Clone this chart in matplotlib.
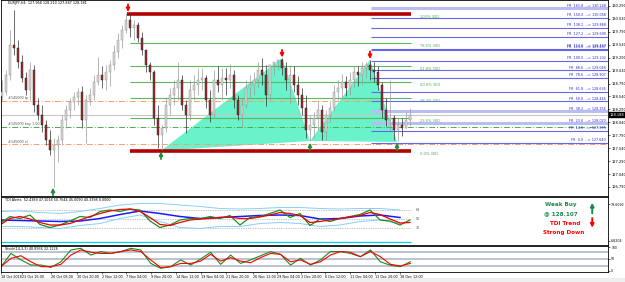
import numpy as np
import matplotlib
matplotlib.use('Agg')
import matplotlib.pyplot as plt
from matplotlib.patches import Rectangle

plt.rcParams['font.family'] = ['DejaVu Sans']
SMALL = 2.6
TINY = 2.4

# ---- price candles (EURJPY H4, one candle here ~ 2.5 real bars)
c_high = [128.86, 129.05, 129.83, 130.21, 129.63, 129.34, 129.01, 129.21, 129.15, 128.51,
          128.38, 128.09, 127.89, 127.74, 127.80, 128.18, 128.38, 128.51, 128.63, 128.70,
          128.74, 128.57, 128.70, 128.96, 129.30, 129.13, 129.15, 129.25, 129.54, 129.77,
          129.92, 130.16, 130.14, 130.02, 129.98, 129.79, 129.44, 129.21, 129.05, 128.38,
          127.99, 128.51, 128.70, 128.86, 129.21, 128.96, 128.47, 128.86, 128.96, 129.09,
          129.09, 128.96, 128.67, 129.05, 129.13, 129.09, 129.09, 129.17, 129.05, 128.57,
          128.51, 128.86, 128.96, 129.01, 129.21, 129.28, 129.15, 129.17, 129.21, 129.23,
          129.28, 129.21, 129.15, 129.13, 128.94, 128.70, 128.57, 128.18, 128.24, 128.47,
          128.38, 128.28, 128.43, 128.76, 128.86, 128.98, 128.94, 129.01, 129.13, 129.13,
          129.21, 129.21, 129.25, 129.21, 129.13, 128.82, 128.51, 128.86, 128.18, 128.12,
          128.12, 128.24, 128.32]
c_low = [128.47, 128.57, 128.86, 129.34, 129.09, 128.82, 128.57, 128.47, 128.24, 128.09,
         127.85, 127.60, 127.41, 126.79, 127.27, 127.60, 127.93, 128.12, 128.28, 128.38,
         127.93, 127.64, 128.38, 128.47, 128.76, 128.70, 128.67, 128.74, 129.05, 129.28,
         129.48, 129.77, 129.69, 129.63, 129.59, 129.34, 129.01, 128.86, 127.99, 127.54,
         127.51, 127.85, 128.18, 128.38, 128.47, 128.28, 127.83, 128.09, 128.47, 128.57,
         128.67, 128.32, 128.05, 128.12, 128.63, 128.47, 128.57, 128.70, 128.32, 128.09,
         127.93, 128.32, 128.51, 128.57, 128.70, 128.76, 128.36, 128.47, 128.96, 129.05,
         128.96, 128.67, 128.41, 128.63, 128.38, 128.18, 127.74, 127.68, 127.74, 127.89,
         127.70, 127.70, 128.05, 128.28, 128.47, 128.51, 128.55, 128.57, 128.70, 128.74,
         128.76, 128.90, 128.86, 128.82, 128.67, 128.12, 127.97, 127.89, 127.70, 127.68,
         127.78, 127.93, 127.97]
c_close = [128.63, 128.96, 129.54, 129.48, 129.21, 128.90, 128.67, 129.05, 128.38, 128.18,
           127.99, 127.70, 127.51, 127.60, 127.70, 128.09, 128.28, 128.43, 128.53, 128.63,
           128.09, 128.47, 128.57, 128.82, 128.96, 128.86, 129.01, 129.15, 129.40, 129.63,
           129.83, 130.02, 129.86, 129.92, 129.67, 129.44, 129.15, 129.01, 128.12, 127.80,
           127.93, 128.38, 128.57, 128.70, 128.86, 128.38, 128.18, 128.67, 128.76, 128.86,
           128.90, 128.47, 128.18, 128.86, 128.76, 128.90, 128.86, 128.96, 128.47, 128.18,
           128.38, 128.70, 128.76, 128.86, 129.05, 128.96, 128.57, 129.15, 129.21, 129.25,
           129.09, 128.86, 128.96, 128.76, 128.57, 128.32, 127.89, 127.99, 128.12, 128.28,
           127.85, 128.18, 128.32, 128.63, 128.70, 128.82, 128.70, 128.86, 129.01, 128.96,
           129.09, 129.15, 129.05, 129.01, 128.76, 128.28, 128.09, 128.12, 127.89, 127.99,
           127.93, 128.09, 128.19]
first_open = 128.55
current_price = 128.188

# ---- 30D fibo levels
fib30_labels = ["100% 30D", "78.6% 30D", "61.8% 30D", "50.0% 30D", "38.2% 30D", "23.6% 30D", "0.0% 30D"]
fib30_prices = [130.135, 129.574, 129.130, 128.820, 128.511, 128.124, 127.486]

# ---- fibo retracement/expansion on the right
fr_ratios = ["161.8", "150.0", "138.2", "127.2", "114.6", "113.0", "100.0", "88.6",
             "78.6", "61.8", "50.0", "38.2", "23.6", "14.6", "0.0"]
fr_prices = [130.248, 130.058, 129.868, 129.690, 129.467, 129.437, 129.232, 129.048,
             128.907, 128.636, 128.446, 128.256, 128.020, 127.875, 127.640]

# ---- order lines
order_labels = ["#145000 tp", "#145000 buy 1.00", "#145000 sl"]
order_prices = [128.453, 127.950, 127.620]

# ---- harmonic pattern X A B C D
pat_idx = [39.75, 70, 77, 92, 98.75]
pat_price = [127.49, 129.28, 127.68, 129.25, 127.66]
peak_idx = [31.5, 70, 92]
peak_price = [130.16, 129.28, 129.25]
trough_idx = [12.75, 39.75, 77, 98.75]
trough_price = [126.79, 127.49, 127.66, 127.66]

price_ticks = [126.790, 127.040, 127.290, 127.540, 127.790, 128.040, 128.290, 128.540,
               128.790, 129.040, 129.290, 129.540, 129.790, 130.040, 130.290]

# ---- TDI
tdi_green = [41, 55, 51, 58, 39, 33, 38, 46, 55, 53, 65, 68, 65, 70, 68, 46, 33, 38, 48, 51, 50,
             55, 51, 57, 38, 53, 55, 61, 68, 53, 61, 37, 50, 45, 51, 55, 59, 68, 48, 46, 38, 48]
tdi_red = [38, 51, 55, 50, 43, 38, 38, 41, 48, 55, 61, 66, 69, 70, 65, 53, 39, 37, 43, 48, 50,
           51, 53, 54, 51, 51, 54, 58, 63, 61, 57, 43, 45, 48, 51, 54, 57, 63, 59, 50, 42, 43]
tdi_base = [48, 47, 46, 45, 46, 51, 59, 66, 61, 55, 51, 53, 55, 57, 58, 57, 50, 51, 56, 58, 53]
tdi_upper = [65, 66, 63, 61, 65, 71, 78, 81, 81, 78, 75, 71, 70, 71, 73, 73, 71, 70, 71, 71, 68]
tdi_lower = [35, 35, 33, 31, 37, 41, 51, 58, 45, 33, 31, 35, 35, 41, 43, 41, 35, 38, 45, 48, 41]
tdi_levels = [68, 50, 32]

# ---- Stochastic
st_main = [17, 74, 46, 24, 24, 14, 38, 89, 96, 67, 82, 74, 82, 96, 89, 31, 10, 17, 46, 24, 50,
           79, 27, 67, 31, 46, 64, 82, 70, 24, 53, 24, 46, 82, 82, 74, 60, 89, 38, 23, 17, 38]
st_sig = [17, 53, 64, 38, 17, 17, 27, 67, 89, 79, 74, 74, 82, 89, 82, 46, 13, 17, 31, 31, 41,
          70, 41, 56, 41, 34, 56, 74, 70, 38, 46, 27, 38, 67, 82, 79, 60, 82, 60, 27, 20, 31]
st_levels = [80, 50, 20]

time_idx = [-0.5, 4.75, 12, 18.5, 24.75, 30.75, 37, 43.25, 49.5, 55.75, 62.5, 68.5, 74.5,
            80.75, 87, 93.25, 99.5]
time_labels = ["18 Oct 2018", "23 Oct 16:00", "26 Oct 08:00", "30 Oct 20:00", "2 Nov 12:00",
               "7 Nov 04:00", "9 Nov 20:00", "14 Nov 12:00", "19 Nov 04:00", "21 Nov 20:00",
               "26 Nov 12:00", "29 Nov 04:00", "3 Dec 20:00", "6 Dec 12:00", "11 Dec 04:00",
               "13 Dec 20:00", "18 Dec 12:00"]

XMIN, XMAX = -0.25, 151.5
ind_x = np.arange(len(tdi_green)) * 2.5 - 0.5
band_x = np.arange(len(tdi_base)) * 5 - 0.5

fig = plt.figure(figsize=(6.25, 2.82), dpi=100)
fig.patches.append(Rectangle((0, 0), 1, 4 / 282, transform=fig.transFigure,
                             facecolor='#efefef', edgecolor='none'))
ax = fig.add_axes([1 / 625, 86 / 282, 607 / 625, 196 / 282])
ax2 = fig.add_axes([1 / 625, 37 / 282, 607 / 625, 48 / 282])
ax3 = fig.add_axes([1 / 625, 10 / 282, 607 / 625, 26 / 282])

for a in (ax, ax2, ax3):
    a.set_xlim(XMIN, XMAX)
    for s in a.spines.values():
        s.set_linewidth(0.6)
        s.set_color('black')
    a.yaxis.tick_right()
    a.tick_params(axis='y', labelsize=SMALL, length=1.5, width=0.4, pad=0.8)

# ---------------- main price panel
ax.set_ylim(126.615, 130.406)
ax.set_xticks([])
ax.set_yticks(price_ticks)
ax.set_yticklabels(['%.3f' % t for t in price_ticks])

# harmonic pattern triangles
ax.fill(pat_idx[0:3], pat_price[0:3], color='#6af2ca', lw=0, zorder=1)
ax.fill(pat_idx[2:5], pat_price[2:5], color='#6af2ca', lw=0, zorder=1)

# order lines
ax.axhline(current_price, color='#c8c8c8', lw=0.8, zorder=1.5)
order_colors = ['#ff9a70', '#4caf50', '#ff9a70']
for lab, p, col in zip(order_labels, order_prices, order_colors):
    ax.axhline(p, color=col, lw=0.7, ls=(0, (6, 2, 1, 2)), zorder=1.5)
    ax.text(1.5, p + 0.01, lab, fontsize=TINY, color='#555555', va='bottom', ha='left')

# 30D fibo
ax.hlines(fib30_prices[1:-1], 32, 102.25, color='#5cb85c', lw=0.8, zorder=1.6)
ax.hlines([fib30_prices[0]], 31.25, 102.25, color='#b30000', lw=2.6, zorder=3)
ax.hlines([fib30_prices[-1]], 32, 102.25, color='#b30000', lw=2.6, zorder=3)
for lab, p in zip(fib30_labels, fib30_prices):
    ax.text(104.5, p - 0.012, lab, fontsize=SMALL, color='#4cae4c', va='top', ha='left')

# right fibo lines
light = {"161.8", "38.2", "23.6"}
for r, p in zip(fr_ratios, fr_prices):
    if r in light:
        ax.hlines(p, 92.25, XMAX, color='#bcbcf4', lw=2.2, zorder=1.7)
    else:
        ax.hlines(p, 92.25, XMAX, color='#6565ee', lw=0.8, zorder=1.7)
    ax.text(151.0, p + 0.012, 'FR  %s  --> %.3f' % (r, p), fontsize=TINY, color='#2a2acc',
            va='bottom', ha='right')

# candles
c_open = [first_open] + c_close[:-1]
idx = np.arange(len(c_close))
o = np.array(c_open)
c = np.array(c_close)
bull = c >= o
wick_col = np.where(bull, '#9a9a9a', '#303030')
ax.vlines(idx, c_low, c_high, colors=wick_col, lw=0.5, zorder=4)
ax.bar(idx[bull], (c - o)[bull], bottom=o[bull], width=0.5, color='#d6d6d6',
       edgecolor='#8a8a8a', lw=0.3, zorder=5)
ax.bar(idx[~bull], (c - o)[~bull], bottom=o[~bull], width=0.5, color='#9a3030',
       edgecolor='#1a1a1a', lw=0.3, zorder=5)

# arrows
for x, p in zip(peak_idx, peak_price):
    ax.annotate('', xy=(x, p), xytext=(0, 6), textcoords='offset points',
                arrowprops=dict(arrowstyle='-|>', color='#ff0000', lw=1.3,
                                mutation_scale=5, shrinkA=0, shrinkB=0.5), zorder=6)
for x, p in zip(trough_idx, trough_price):
    ax.annotate('', xy=(x, p), xytext=(0, -6), textcoords='offset points',
                arrowprops=dict(arrowstyle='-|>', color='#1e8f3e', lw=1.3,
                                mutation_scale=5, shrinkA=0, shrinkB=0.5),
                annotation_clip=False, zorder=6)

ax.annotate('%.3f' % current_price, xy=(1.0, current_price), xycoords=('axes fraction', 'data'),
            xytext=(1.0, 0), textcoords='offset points', fontsize=SMALL, color='white',
            va='center', ha='left', annotation_clip=False,
            bbox=dict(boxstyle='square,pad=0.15', fc='black', ec='black'))

ax.text(0.012, 0.993, 'EURJPY,H4  127.968 128.210 127.887 128.181', transform=ax.transAxes,
        fontsize=TINY, va='top', ha='left')

# ---------------- TDI panel
ax2.set_ylim(-2, 94)
ax2.set_xticks([])
ax2.set_yticks([79.6092, 6.8204])
ax2.set_yticklabels(['79.6092', '6.8204'])
ax2.tick_params(axis='y', labelsize=2.3)
ax2.hlines(tdi_levels, XMIN, 102.25, color='#888888', lw=0.5, ls=(0, (1, 1.5)))
ax2.hlines([4], XMIN, 102.25, color='#00d0e0', lw=0.9)
ax2.plot(band_x, tdi_upper, color='#87cefa', lw=0.7)
ax2.plot(band_x, tdi_lower, color='#87cefa', lw=0.7)
ax2.plot(band_x, tdi_base, color='#1a1aff', lw=1.1)
ax2.plot(ind_x, tdi_green, color='#1f8f1f', lw=0.9)
ax2.plot(ind_x, tdi_red, color='#ee0000', lw=0.9)
for lv in tdi_levels:
    ax2.text(103.5, lv, str(lv), fontsize=TINY, color='#555555', va='center', ha='left')
ax2.text(0.006, 0.97, 'TDI Alerts  52.4389 47.1018 50.7644 45.0090 40.3398 0.0000',
         transform=ax2.transAxes, fontsize=TINY, va='top', ha='left')
ax2.text(0.922, 0.85, 'Weak Buy', transform=ax2.transAxes, fontsize=4.1, color='#1a8a4a',
         weight='bold', ha='center', va='center')
ax2.text(0.922, 0.66, '@ 128.107', transform=ax2.transAxes, fontsize=4.1, color='#1a8a4a',
         weight='bold', ha='center', va='center')
ax2.text(0.93, 0.45, 'TDI Trend', transform=ax2.transAxes, fontsize=4.1, color='#ff0000',
         weight='bold', ha='center', va='center')
ax2.text(0.927, 0.255, 'Strong Down', transform=ax2.transAxes, fontsize=4.1, color='#ff0000',
         weight='bold', ha='center', va='center')
ax2.annotate('', xy=(0.974, 0.88), xytext=(0.974, 0.66), xycoords='axes fraction',
             arrowprops=dict(arrowstyle='-|>', color='#1a8a4a', lw=1.4, mutation_scale=5,
                             shrinkA=0, shrinkB=0))
ax2.annotate('', xy=(0.974, 0.36), xytext=(0.974, 0.56), xycoords='axes fraction',
             arrowprops=dict(arrowstyle='-|>', color='#ff0000', lw=1.4, mutation_scale=5,
                             shrinkA=0, shrinkB=0))

# ---------------- Stochastic panel
ax3.set_ylim(-6, 106)
ax3.hlines(st_levels, XMIN, XMAX, color='#a9b2c3', lw=1.1)
ax3.plot(ind_x, st_main, color='#1a8c1a', lw=0.8)
ax3.plot(ind_x, st_sig, color='#ff0000', lw=0.8)
ax3.set_yticks([100, 50, 0])
ax3.set_yticklabels(['100', '50', '0'])
ax3.tick_params(axis='y', labelsize=2.2, pad=0.8)
ax3.text(0.006, 0.95, 'Stoch(14,3,3) 40.8934 32.1226', transform=ax3.transAxes,
         fontsize=TINY, va='top', ha='left')
ax3.set_xticks(time_idx)
ax3.set_xticklabels(time_labels, ha='left')
ax3.tick_params(axis='x', labelsize=2.4, length=1.5, width=0.4, pad=0.8)

fig.savefig('out.png', dpi=100, facecolor='white')
